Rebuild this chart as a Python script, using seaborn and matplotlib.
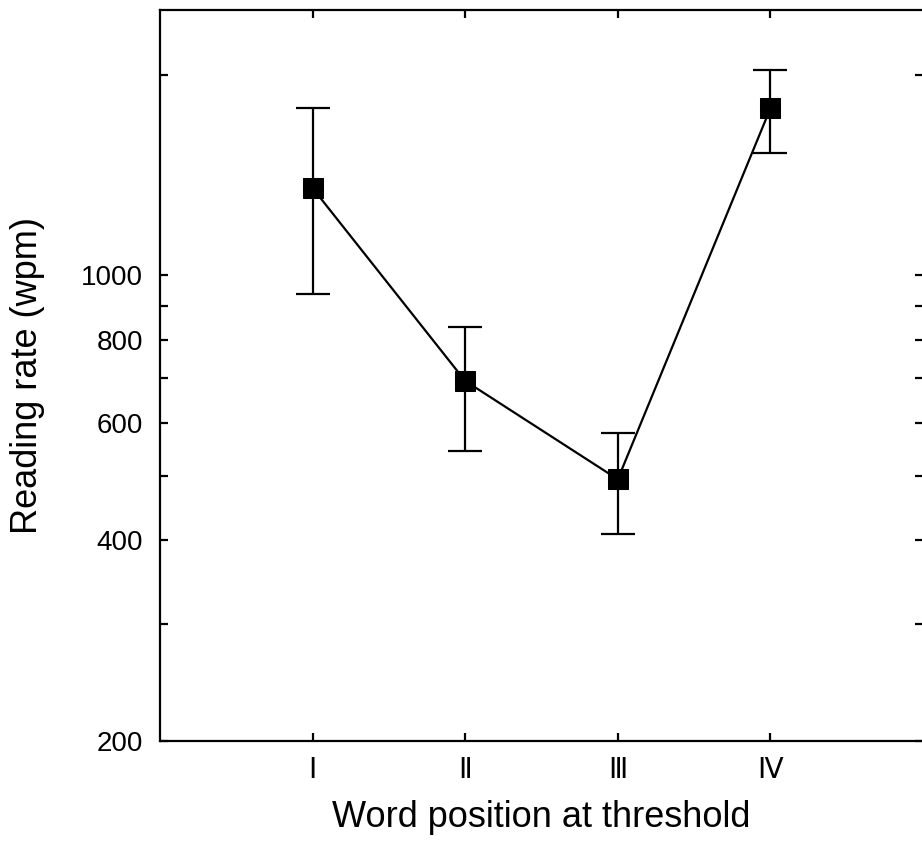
import matplotlib
matplotlib.use("Agg")
import matplotlib.pyplot as plt
import seaborn as sns
import pandas as pd
import numpy as np

# Reading rate by word position at threshold (log scale)
positions = ["Ⅰ", "Ⅱ", "Ⅲ", "Ⅳ"]
x_pos = [1, 2, 3, 4]
mean_rate = [1351, 694, 494, 1780]
upper_rate = [1783, 836, 580, 2030]
lower_rate = [938, 544, 409, 1526]

y_ticks = [200, 300, 400, 500, 600, 700, 800, 900, 1000, 2000]
y_tick_labels = ["200", "", "400", "", "600", "", "800", "", "1000", ""]

sns.set_theme(style="white")
plt.rcParams["font.family"] = ["Liberation Sans", "DejaVu Sans"]

df = pd.DataFrame({"pos": x_pos, "rate": mean_rate})

fig = plt.figure(figsize=(9.22, 8.41), dpi=100)
ax = fig.add_axes([160 / 922, 100 / 841, 763 / 922, 731 / 841])

yerr = np.array([np.array(mean_rate) - np.array(lower_rate),
                 np.array(upper_rate) - np.array(mean_rate)])
ax.errorbar(x_pos, mean_rate, yerr=yerr, fmt="none", ecolor="black",
            elinewidth=1.6, capsize=12, capthick=1.6, zorder=2)
sns.lineplot(data=df, x="pos", y="rate", ax=ax, color="black", linewidth=1.6,
             marker="s", markersize=14.5, markeredgecolor="black",
             markerfacecolor="black", zorder=3)

ax.set_yscale("log")
ax.set_ylim(200, 2500)
ax.set_xlim(0, 5)
ax.set_yticks(y_ticks)
ax.set_yticklabels(y_tick_labels)
ax.yaxis.set_minor_locator(matplotlib.ticker.NullLocator())
ax.set_xticks(x_pos)
ax.set_xticklabels(positions)

for s in ax.spines.values():
    s.set_color("black")
    s.set_linewidth(1.6)

ax.tick_params(axis="both", which="both", direction="in", length=6, width=1.6,
               color="black", labelsize=20, labelcolor="black",
               top=True, right=True, bottom=True, left=True)
ax.tick_params(axis="y", pad=12)
ax.tick_params(axis="x", pad=12)

ax.set_xlabel("Word position at threshold", fontsize=26, labelpad=12, color="black")
ax.set_ylabel("Reading rate (wpm)", fontsize=26, labelpad=26, color="black")

fig.savefig("out.png", dpi=100)
